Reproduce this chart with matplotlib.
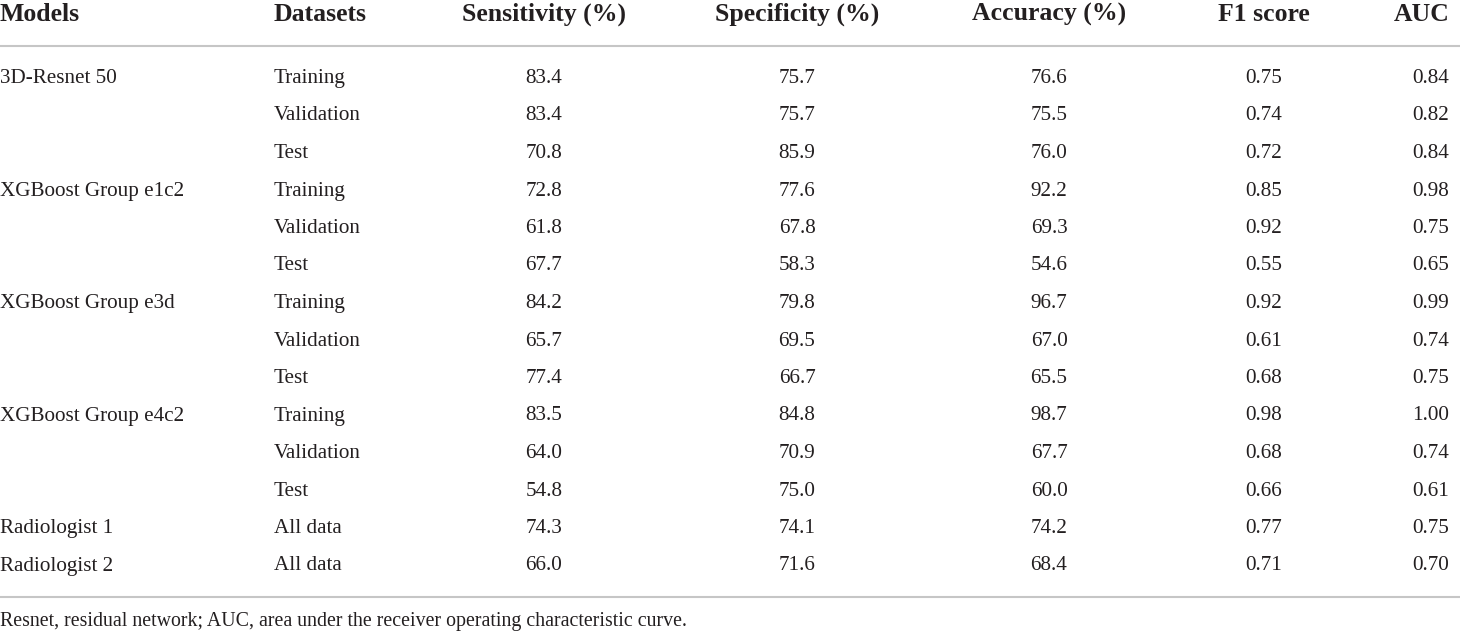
import matplotlib
matplotlib.use("Agg")
import matplotlib.pyplot as plt
from matplotlib.lines import Line2D

plt.rcParams['font.family'] = ['Liberation Serif', 'DejaVu Serif']

W, H = 1460, 631
TXT = '#231f20'
RULE = '#c6c6c6'

headers = ["Models", "Datasets", "Sensitivity (%)", "Specificity (%)",
           "Accuracy (%)", "F1 score", "AUC"]
models = ["3D-Resnet 50", "", "", "XGBoost Group e1c2", "", "",
          "XGBoost Group e3d", "", "", "XGBoost Group e4c2", "", "",
          "Radiologist 1", "Radiologist 2"]
datasets = ["Training", "Validation", "Test"] * 4 + ["All data", "All data"]
sensitivity = [83.4, 83.4, 70.8, 72.8, 61.8, 67.7, 84.2, 65.7, 77.4,
               83.5, 64.0, 54.8, 74.3, 66.0]
specificity = [75.7, 75.7, 85.9, 77.6, 67.8, 58.3, 79.8, 69.5, 66.7,
               84.8, 70.9, 75.0, 74.1, 71.6]
accuracy = [76.6, 75.5, 76.0, 92.2, 69.3, 54.6, 96.7, 67.0, 65.5,
            98.7, 67.7, 60.0, 74.2, 68.4]
f1_score = [0.75, 0.74, 0.72, 0.85, 0.92, 0.55, 0.92, 0.61, 0.68,
            0.98, 0.68, 0.66, 0.77, 0.71]
auc = [0.84, 0.82, 0.84, 0.98, 0.75, 0.65, 0.99, 0.74, 0.75,
       1.00, 0.74, 0.61, 0.75, 0.70]
footnote = "Resnet, residual network; AUC, area under the receiver operating characteristic curve."

fig = plt.figure(figsize=(W / 100, H / 100), dpi=100)

def px(x, y):
    return x / W, 1 - y / H

# column anchors (pixel x, alignment)
cols = [(0, 'left'), (274, 'left'), (544, 'center'), (797, 'center'),
        (1049, 'center'), (1264, 'center'), (1449, 'right')]

# header
for (x, ha), h in zip(cols, headers):
    fig.text(*px(x, 21), h, ha=ha, va='baseline', fontsize=18.5,
             fontweight='bold', color=TXT)

# rules
for y in (46, 597):
    fig.add_artist(Line2D([0, 1], [1 - y / H] * 2, color=RULE, lw=1.5))

# body
row_y0, row_dy = 83, 37.5
for i in range(len(datasets)):
    y = row_y0 + i * row_dy
    cells = [models[i], datasets[i], f"{sensitivity[i]:.1f}", f"{specificity[i]:.1f}",
             f"{accuracy[i]:.1f}", f"{f1_score[i]:.2f}", f"{auc[i]:.2f}"]
    for (x, ha), c in zip(cols, cells):
        if c:
            fig.text(*px(x, y), c, ha=ha, va='baseline', fontsize=15.2, color=TXT)

fig.text(*px(0, 626), footnote, ha='left', va='baseline', fontsize=14.3, color=TXT)

fig.savefig("out.png", dpi=100, facecolor='white')
